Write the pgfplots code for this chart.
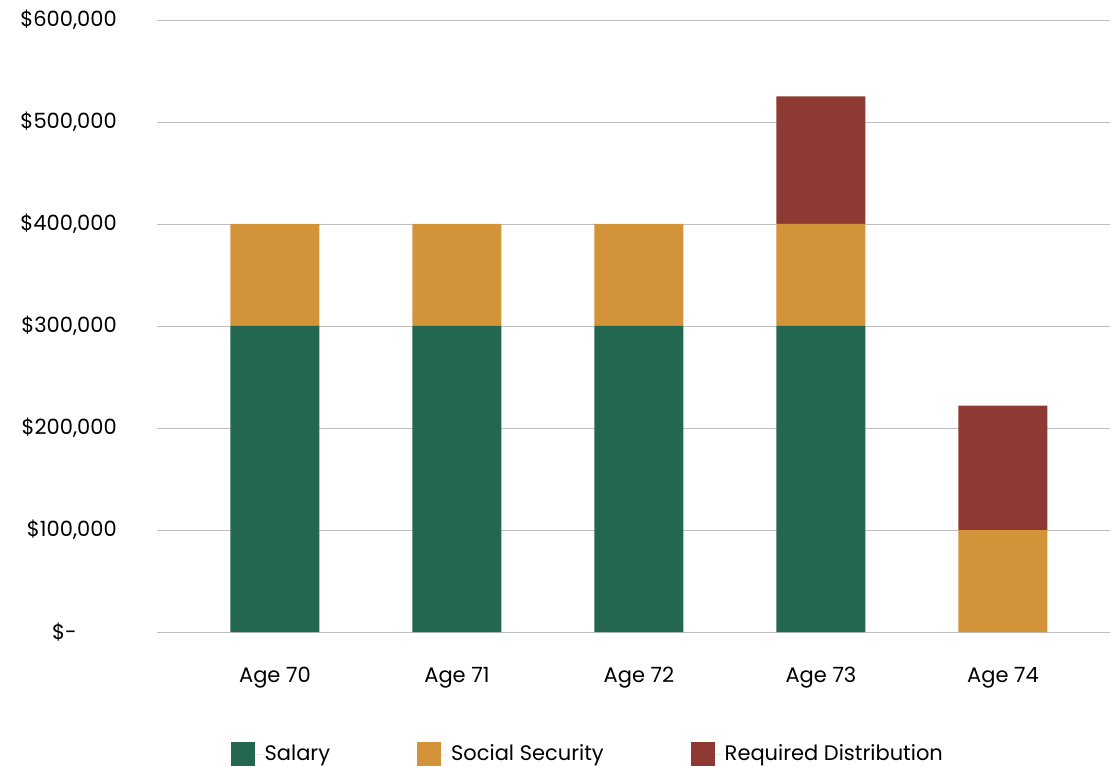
\documentclass[border=0pt]{standalone}
\usepackage{fontspec}
\setmainfont{Poppins}
\usepackage{pgfplots}
\pgfplotsset{compat=1.18}
\definecolor{cgreen}{HTML}{246751}
\definecolor{corange}{HTML}{D39439}
\definecolor{cred}{HTML}{8E3A33}
\newcommand{\lfont}{\fontsize{21bp}{25bp}\selectfont}
\begin{document}
\lfont
\begin{tikzpicture}
\useasboundingbox (-157bp,-135bp) rectangle (953bp,632bp);
\begin{axis}[
  at={(0,0)}, anchor=south west, scale only axis,
  width=953bp, height=612bp,
  ybar stacked, bar width=89bp,
  xmin=-0.648, xmax=4.588, ymin=0, ymax=600000,
  scaled y ticks=false,
  xtick={0,1,2,3,4},
  xticklabels={Age 70,Age 71,Age 72,Age 73,Age 74},
  ytick={0,100000,200000,300000,400000,500000,600000},
  yticklabels={{\$-\rule{40bp}{0pt}},{\$100,000},{\$200,000},{\$300,000},{\$400,000},{\$500,000},{\$600,000}},
  ymajorgrids, grid style={black!25, line width=0.9bp},
  axis line style={draw=none}, major tick length=0,
  tick label style={font=\lfont},
  xticklabel style={yshift=-28bp},
  yticklabel style={xshift=-33bp},
  /pgf/number format/assume math mode=true,
  legend style={at={(0.452,-0.2)}, anchor=center, draw=none, fill=none,
    legend columns=3, font=\lfont,
    /tikz/every even column/.append style={column sep=85bp}},
  legend image code/.code={\fill[#1] (0bp,-12bp) rectangle (24bp,12bp); \path (0bp,0bp) -- (32bp,0bp);},
  legend cell align=left,
]
\addplot[fill=cgreen, draw=none] coordinates {(0,300000) (1,300000) (2,300000) (3,300000) (4,0)};
\addplot[fill=corange, draw=none] coordinates {(0,100000) (1,100000) (2,100000) (3,100000) (4,100000)};
\addplot[fill=cred, draw=none] coordinates {(0,0) (1,0) (2,0) (3,125000) (4,122000)};
\legend{Salary,Social Security,Required Distribution}
\end{axis}
\end{tikzpicture}
\end{document}
